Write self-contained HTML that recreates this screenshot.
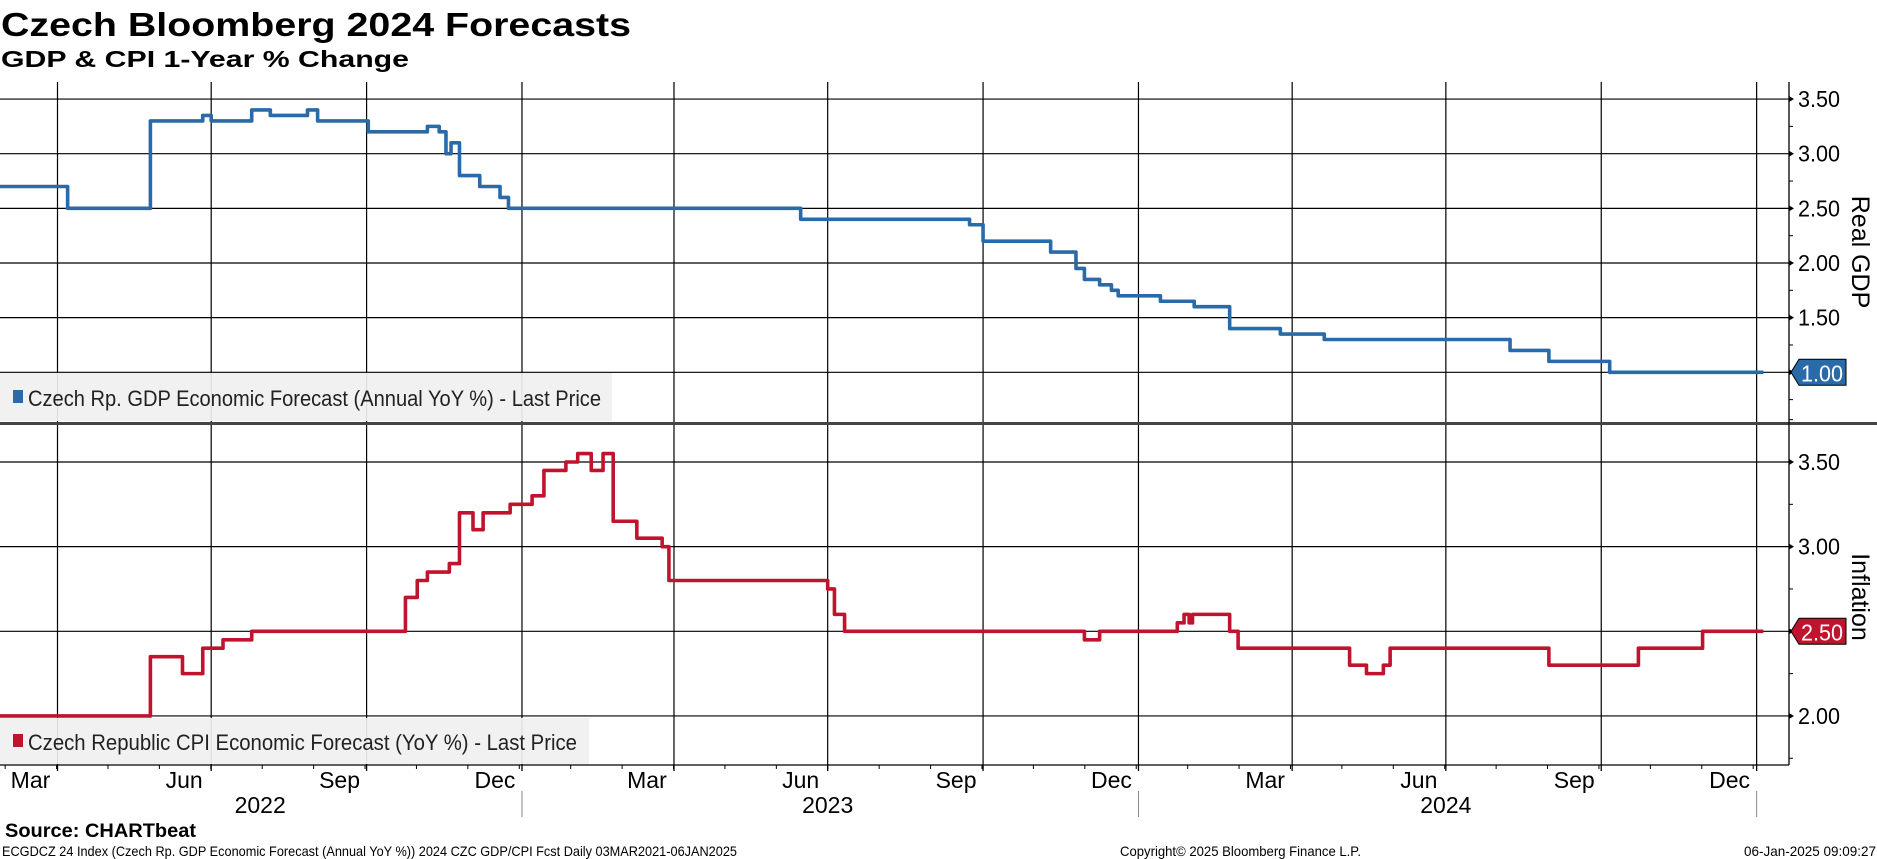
<!DOCTYPE html>
<html><head><meta charset="utf-8">
<style>
html,body{margin:0;padding:0;background:#fff;}
svg{display:block;font-family:"Liberation Sans Narrow","Liberation Sans",sans-serif;}
</style></head>
<body>
<svg id="chart" width="1877" height="859" viewBox="0 0 1877 859">
  <text x="1" y="36" font-size="33" font-weight="bold" textLength="630" lengthAdjust="spacingAndGlyphs">Czech Bloomberg 2024 Forecasts</text>
  <text x="1" y="67" font-size="23" font-weight="bold" textLength="408" lengthAdjust="spacingAndGlyphs">GDP &amp; CPI 1-Year % Change</text>
  <g id="grid"></g>
  <g id="series"></g>
  <rect x="0" y="373" width="612" height="48" fill="#f0f0f0" opacity="0.92"/>
  <rect x="13" y="390" width="10" height="13" fill="#2b6aa8"/>
  <text x="28" y="406" font-size="22" textLength="573" lengthAdjust="spacingAndGlyphs" fill="#222">Czech Rp. GDP Economic Forecast (Annual YoY %) - Last Price</text>
  <rect x="0" y="718" width="589" height="46" fill="#f0f0f0" opacity="0.92"/>
  <rect x="13" y="734" width="10" height="13" fill="#c0142e"/>
  <text x="28" y="750" font-size="22" textLength="549" lengthAdjust="spacingAndGlyphs" fill="#222">Czech Republic CPI Economic Forecast (YoY %) - Last Price</text>
  <rect x="0" y="422" width="1877" height="3" fill="#444"/>
  <g id="axes"></g>
  <text transform="translate(1852,252) rotate(90)" font-size="25" text-anchor="middle" font-family="Liberation Sans, sans-serif">Real GDP</text>
  <text transform="translate(1852,597) rotate(90)" font-size="25" text-anchor="middle" font-family="Liberation Sans, sans-serif">Inflation</text>
  <text x="5" y="837" font-size="19" font-weight="bold" textLength="191" lengthAdjust="spacingAndGlyphs">Source: CHARTbeat</text>
  <text x="2" y="856" font-size="14" textLength="735" lengthAdjust="spacingAndGlyphs">ECGDCZ 24 Index (Czech Rp. GDP Economic Forecast (Annual YoY %)) 2024 CZC GDP/CPI Fcst  Daily 03MAR2021-06JAN2025</text>
  <text x="1120" y="856" font-size="14" textLength="241" lengthAdjust="spacingAndGlyphs">Copyright© 2025 Bloomberg Finance L.P.</text>
  <text x="1744" y="856" font-size="14" textLength="132" lengthAdjust="spacingAndGlyphs">06-Jan-2025 09:09:27</text>
</svg>
<script>
// ---- data (days since 2022-04-01, value) ----
const gdpDays = [-40, 6, 55, 86, 91, 115, 126, 148, 154, 184, 219, 226, 230, 233, 238, 250, 262, 267, 440, 540, 548, 588, 603, 608, 617, 624, 628, 653, 673, 694, 724, 750, 860, 883, 919, 1010];
const gdpVals = [2.70, 2.50, 3.30, 3.35, 3.30, 3.40, 3.35, 3.40, 3.30, 3.20, 3.25, 3.20, 3.00, 3.10, 2.80, 2.70, 2.60, 2.50, 2.40, 2.35, 2.20, 2.10, 1.95, 1.85, 1.80, 1.75, 1.70, 1.65, 1.60, 1.40, 1.35, 1.30, 1.20, 1.10, 1.00, 1.00];
const cpiDays = [-40, 55, 74, 86, 98, 115, 206, 213, 219, 232, 238, 246, 252, 268, 281, 288, 301, 308, 316, 323, 329, 343, 358, 362, 456, 460, 466, 608, 617, 663, 667, 670, 672, 694, 699, 765, 775, 785, 789, 883, 936, 974, 1010];
const cpiVals = [2.00, 2.35, 2.25, 2.40, 2.45, 2.50, 2.70, 2.80, 2.85, 2.90, 3.20, 3.10, 3.20, 3.25, 3.30, 3.45, 3.50, 3.55, 3.45, 3.55, 3.15, 3.05, 3.00, 2.80, 2.75, 2.60, 2.50, 2.45, 2.50, 2.55, 2.60, 2.55, 2.60, 2.50, 2.40, 2.30, 2.25, 2.30, 2.40, 2.30, 2.40, 2.50, 2.50];
const gdpTicks = [3.50, 3.00, 2.50, 2.00, 1.50, 1.00];
const cpiTicks = [3.50, 3.00, 2.50, 2.00];
const monthLabels = ["Mar","Jun","Sep","Dec","Mar","Jun","Sep","Dec","Mar","Jun","Sep","Dec"];
const monthLabelDays = [-16, 75, 167, 259, 349, 440, 532, 624, 715, 806, 898, 990];
const quarterGridDays = [0, 91, 183, 275, 365, 456, 548, 640, 731, 822, 914, 1006];
const yearLabels = ["2022","2023","2024"];
const yearLabelDays = [120, 456, 822];
const yearSepDays = [275, 640, 1006];
const gdpLast = "1.00", cpiLast = "2.50";

// ---- scales ----
const X0 = 57.5, PXD = 1.689, AXIS_X = 1789, PTOP = 82, PBOT = 765;
const x = d => X0 + d * PXD;
const yG = v => 372.3 - (v - 1.0) * 109.3;
const yC = v => 631.3 - (v - 2.5) * 169.3;
const NS = "http://www.w3.org/2000/svg";
function mk(tag, attrs, parent) {
  const e = document.createElementNS(NS, tag);
  for (const k in attrs) e.setAttribute(k, attrs[k]);
  parent.appendChild(e); return e;
}
const grid = document.getElementById('grid');
const axes = document.getElementById('axes');
const series = document.getElementById('series');

quarterGridDays.forEach(d => {
  const l = mk('line', {x1: x(d), x2: x(d), y1: PTOP, y2: PBOT, stroke: '#000', 'stroke-width': 1.2}, grid);
  
  
});
function hAxis(ticks, yf, lo, hi, name) {
  ticks.forEach(v => {
    const l = mk('line', {x1: 0, x2: AXIS_X, y1: yf(v), y2: yf(v), stroke: '#000', 'stroke-width': 1.2}, grid);
    
    
    const a = mk('path', {d: `M${AXIS_X} ${yf(v)-3} L${AXIS_X+5} ${yf(v)} L${AXIS_X} ${yf(v)+3}Z`, fill: '#000'}, axes);
    
    
    const t = mk('text', {x: AXIS_X + 9, y: yf(v) + 8, 'font-size': 23, textLength: 42, lengthAdjust: 'spacingAndGlyphs'}, axes);
    t.textContent = v.toFixed(2);
    
    
  });
  for (let v = lo; v <= hi + 1e-9; v += 0.25) {
    mk('line', {x1: AXIS_X, x2: AXIS_X + 4, y1: yf(v), y2: yf(v), stroke: '#000', 'stroke-width': 1}, axes);
  }
}
hAxis(gdpTicks, yG, 0.75, 3.5, 'gdp-y');
hAxis(cpiTicks, yC, 1.75, 3.75, 'cpi-y');

mk('line', {x1: AXIS_X, x2: AXIS_X, y1: PTOP, y2: PBOT, stroke: '#000', 'stroke-width': 1.3}, axes);
const xa = mk('line', {x1: 0, x2: AXIS_X, y1: PBOT, y2: PBOT, stroke: '#000', 'stroke-width': 1.3}, axes);


for (let d = -31; d <= 1010; d += 30.44) {
  mk('line', {x1: x(d), x2: x(d), y1: PBOT, y2: PBOT + 4, stroke: '#000', 'stroke-width': 1}, axes);
}
quarterGridDays.forEach(d => mk('line', {x1: x(d), x2: x(d), y1: PBOT, y2: PBOT + 6, stroke: '#000', 'stroke-width': 1.3}, axes));
monthLabels.forEach((m, i) => {
  const t = mk('text', {x: x(monthLabelDays[i]), y: 788, 'font-size': 23, 'text-anchor': 'middle'}, axes);
  t.textContent = m;
  
  
});
yearLabels.forEach((yv, i) => {
  const t = mk('text', {x: x(yearLabelDays[i]), y: 813, 'font-size': 23, 'text-anchor': 'middle'}, axes);
  t.textContent = yv;
  
  
});
yearSepDays.forEach(d => mk('line', {x1: x(d), x2: x(d), y1: 791, y2: 817, stroke: '#888', 'stroke-width': 1}, axes));

function stepPath(days, vals, yf) {
  let p = `M${x(days[0])} ${yf(vals[0])}`;
  for (let i = 1; i < days.length; i++) {
    p += ` L${x(days[i])} ${yf(vals[i-1])} L${x(days[i])} ${yf(vals[i])}`;
  }
  return p;
}
const gl = mk('path', {d: stepPath(gdpDays, gdpVals, yG), fill: 'none', stroke: '#2b6aa8', 'stroke-width': 3.6, 'stroke-linejoin': 'round'}, series);


const cl = mk('path', {d: stepPath(cpiDays, cpiVals, yC), fill: 'none', stroke: '#c0142e', 'stroke-width': 3.6, 'stroke-linejoin': 'round'}, series);


function tag(val, yf, color, name) {
  const y = yf(parseFloat(val));
  const p = mk('path', {d: `M${AXIS_X+2} ${y} L${AXIS_X+10} ${y-13} L${AXIS_X+57} ${y-13} L${AXIS_X+57} ${y+13} L${AXIS_X+10} ${y+13}Z`, fill: color, stroke: '#000', 'stroke-width': 1}, axes);
  
  
  const t = mk('text', {x: AXIS_X + 12, y: y + 9, 'font-size': 23, fill: '#fff', textLength: 42, lengthAdjust: 'spacingAndGlyphs'}, axes);
  t.textContent = val;
  
  
}
tag(gdpLast, yG, '#2b6aa8', 'gdp');
tag(cpiLast, yC, '#c0142e', 'cpi');
</script>
</body></html>
